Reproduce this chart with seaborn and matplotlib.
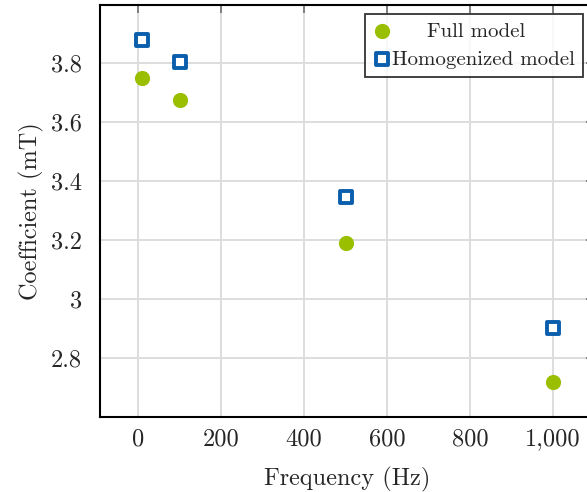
import matplotlib
matplotlib.use("Agg")
import matplotlib.pyplot as plt
import seaborn as sns
import pandas as pd
from matplotlib.ticker import FuncFormatter

freq = [10, 100, 500, 1000]
full_model = [3.749, 3.675, 3.190, 2.719]
homog_model = [3.878, 3.803, 3.346, 2.902]
x_ticks = [0, 200, 400, 600, 800, 1000]
y_ticks = [2.8, 3.0, 3.2, 3.4, 3.6, 3.8]
series_names = ["Full model", "Homogenized model"]

sns.set_theme(style="white")
plt.rcParams["font.family"] = ["serif"]
plt.rcParams["font.serif"] = ["cmr10", "DejaVu Serif"]
plt.rcParams["mathtext.fontset"] = "cm"
plt.rcParams["axes.formatter.use_mathtext"] = True

df_full = pd.DataFrame({"f": freq, "v": full_model})
df_hom = pd.DataFrame({"f": freq, "v": homog_model})

fig = plt.figure(figsize=(5.87, 4.92), dpi=100)
ax = fig.add_axes([100/587, (492-417)/492, (594-100)/587, (417-5)/492])

green = "#99BF00"
blue = "#0A5EAC"

sns.scatterplot(data=df_full, x="f", y="v", ax=ax, color=green, marker="o",
                s=120, linewidth=0, label=series_names[0], zorder=3)
sns.scatterplot(data=df_hom, x="f", y="v", ax=ax, color="white", marker="s",
                s=85, edgecolor=blue, linewidth=2.8, label=series_names[1], zorder=3)

ax.set_xlim(-92, 1099)
ax.set_ylim(2.6, 3.997)
ax.set_xticks(x_ticks)
ax.set_yticks(y_ticks)
ax.xaxis.set_major_formatter(FuncFormatter(lambda v, p: f"{int(v):,}"))
ax.yaxis.set_major_formatter(FuncFormatter(lambda v, p: f"{v:g}"))
ax.grid(True, color="#DDDDDD", linewidth=1.4)
ax.set_axisbelow(True)
ax.tick_params(axis="both", which="both", direction="in", length=6, width=1.3,
               color="#777777", top=True, right=True, labelsize=17.5)
ax.tick_params(axis="x", pad=8)
ax.tick_params(axis="y", pad=13)
for s in ax.spines.values():
    s.set_color("black")
    s.set_linewidth(1.5)

ax.set_xlabel("Frequency (Hz)", fontsize=17.5, labelpad=12)
ax.set_ylabel("Coefficient (mT)", fontsize=17.5, labelpad=5)

handles, labels = ax.get_legend_handles_labels()
leg = ax.legend(handles, labels, loc="upper right",
                bbox_to_anchor=((583-100)/494, (417-14)/412),
                bbox_transform=ax.transAxes, fontsize=15, frameon=True, fancybox=False,
                edgecolor="black", handletextpad=0.0, borderpad=0.4, labelspacing=0.45,
                handlelength=0.9, borderaxespad=0, markerscale=1.0)
leg.get_frame().set_linewidth(1.3)

# centre the shorter label within the text column, as in the reference
fig.canvas.draw()
r = fig.canvas.get_renderer()
w0 = leg.texts[0].get_window_extent(r).width
w1 = leg.texts[1].get_window_extent(r).width
vp = leg._legend_handle_box.get_children()[0]
row0 = vp.get_children()[0]
row0.sep = (w1 - w0) / 2.0 * 72.0 / fig.dpi * 0.83
fig.savefig("out.png", dpi=100)
